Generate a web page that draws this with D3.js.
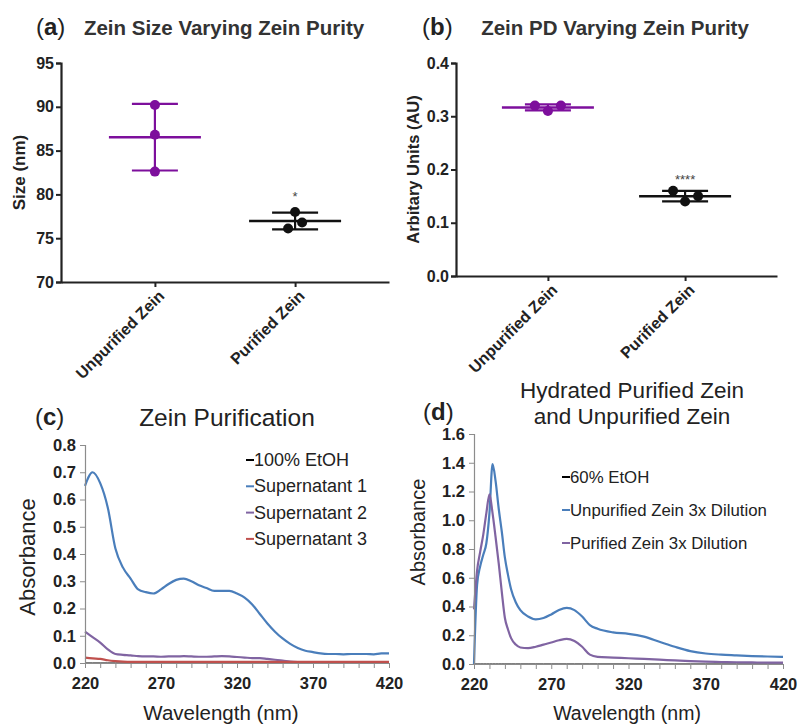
<!DOCTYPE html>
<meta charset="utf-8">
<script src="https://cdnjs.cloudflare.com/ajax/libs/d3/7.8.5/d3.min.js"></script>
<style>
body { margin: 0; background: #fff; }
text { font-family: "Liberation Sans", Arial, sans-serif; }
</style>
<body>
<script>
// ---- data ----
var groups = ["Unpurified Zein", "Purified Zein"];

// (a) particle size, nm (3 replicates each)
var sizeUnpurified = [90.2, 86.8, 82.6];
var sizePurified = [78.0, 76.8, 76.1];
var sizeTicks = [70, 75, 80, 85, 90, 95];

// (b) polydispersity
var pdUnpurified = [0.32, 0.31, 0.32];
var pdPurified = [0.16, 0.14, 0.15];
var pdTicks = [0, 0.1, 0.2, 0.3, 0.4];

// (c) UV spectra, 5 nm steps 220..420
var wlC = d3.range(220, 421, 5);
var etoh100 = wlC.map(function () { return 0; });
var super1 = [0.65, 0.70, 0.66, 0.57, 0.42, 0.35, 0.31, 0.27, 0.26, 0.255, 0.27,
  0.29, 0.305, 0.31, 0.30, 0.285, 0.275, 0.265, 0.265, 0.265, 0.255, 0.24, 0.215,
  0.18, 0.145, 0.115, 0.09, 0.07, 0.055, 0.045, 0.04, 0.035, 0.033, 0.033, 0.032,
  0.033, 0.033, 0.033, 0.032, 0.035, 0.035];
var super2 = [0.115, 0.095, 0.075, 0.05, 0.033, 0.03, 0.028, 0.025, 0.024, 0.024,
  0.023, 0.024, 0.024, 0.025, 0.024, 0.023, 0.023, 0.024, 0.025, 0.024, 0.022,
  0.02, 0.018, 0.018, 0.015, 0.012, 0.009, 0.005, 0.003, 0.002, 0.002, 0.002,
  0.002, 0.002, 0.002, 0.002, 0.002, 0.002, 0.002, 0.002, 0.002];
var super3 = [0.02, 0.017, 0.015, 0.01, 0.007, 0.005, 0.004, 0.004, 0.004, 0.004,
  0.004, 0.004, 0.004, 0.004, 0.004, 0.004, 0.004, 0.004, 0.004, 0.004, 0.004,
  0.004, 0.004, 0.004, 0.004, 0.004, 0.004, 0.004, 0.004, 0.004, 0.004, 0.004,
  0.004, 0.004, 0.004, 0.004, 0.004, 0.004, 0.004, 0.004, 0.004];
var legendC = ["100% EtOH", "Supernatant 1", "Supernatant 2", "Supernatant 3"];

// (d) hydrated zein spectra
var wlD = [220, 222, 224, 226, 228, 230, 232, 234, 236, 238, 240, 242, 244, 247, 250,
  255, 260, 265, 270, 275, 280, 285, 290, 295, 300, 310, 320, 330, 340, 350, 360,
  370, 380, 390, 400, 410, 420];
var etoh60 = wlD.map(function () { return 0; });
var unpurDil = [0.0, 0.55, 0.68, 0.76, 0.84, 1.05, 1.39, 1.27, 1.08, 0.92, 0.74,
  0.62, 0.52, 0.43, 0.375, 0.33, 0.31, 0.32, 0.345, 0.375, 0.39, 0.375, 0.33,
  0.27, 0.245, 0.22, 0.21, 0.19, 0.155, 0.12, 0.09, 0.073, 0.065, 0.06, 0.055,
  0.052, 0.05];
var purDil = [0.38, 0.65, 0.78, 0.9, 1.05, 1.18, 1.05, 0.88, 0.7, 0.5, 0.32, 0.24,
  0.18, 0.135, 0.115, 0.11, 0.12, 0.135, 0.15, 0.165, 0.175, 0.16, 0.12, 0.065,
  0.05, 0.045, 0.04, 0.035, 0.03, 0.025, 0.02, 0.016, 0.014, 0.012, 0.011, 0.01,
  0.01];
var legendD = ["60% EtOH", "Unpurified Zein 3x Dilution", "Purified Zein 3x Dilution"];

var purple = "#7d0f9c";
var lineColors = ["#000000", "#4a7ebb", "#8064a2", "#c0504d"];

var svg = d3.select("body").append("svg")
  .attr("width", 798)
  .attr("height", 727);

// ---------- dot plots (a) and (b) ----------
function dotPanel(opt) {
  var g = svg.append("g");
  var x = d3.scalePoint().domain(groups).range(opt.xr).padding(0.67);
  var y = d3.scaleLinear().domain(opt.dom).range(opt.yr);

  // y axis
  var ya = g.append("g")
    .attr("transform", "translate(" + opt.xr[0] + ",0)")
    .call(d3.axisLeft(y).tickValues(opt.ticks).tickSize(5).tickFormat(opt.fmt));
  // x axis
  var xa = g.append("g")
    .attr("transform", "translate(0," + opt.yr[0] + ")")
    .call(d3.axisBottom(x).tickSize(5).tickSizeOuter(0));
  [ya, xa].forEach(function (a) {
    a.select(".domain").attr("stroke", "#222").attr("stroke-width", 2.2);
    a.selectAll(".tick line").attr("stroke", "#222").attr("stroke-width", 2);
  });
  ya.selectAll("text").attr("font-size", 16).attr("font-weight", "bold")
    .attr("fill", "#222").attr("x", -7);
  xa.selectAll("text").attr("font-size", 16).attr("font-weight", "bold")
    .attr("fill", "#222")
    .attr("text-anchor", "end")
    .attr("transform", "translate(6,11) rotate(-45)")
    .attr("dy", "0.35em").attr("y", 0).attr("x", 0);

  opt.sets.forEach(function (vals, i) {
    var cx = x(groups[i]);
    var col = i === 0 ? purple : "#111";
    var m = d3.mean(vals), sd = d3.deviation(vals);
    var jit = opt.jitter[i];
    // error bar
    g.append("line").attr("x1", cx).attr("x2", cx)
      .attr("y1", y(m + sd)).attr("y2", y(m - sd))
      .attr("stroke", col).attr("stroke-width", 2.2);
    [m + sd, m - sd].forEach(function (v) {
      g.append("line").attr("x1", cx - 23).attr("x2", cx + 23)
        .attr("y1", y(v)).attr("y2", y(v))
        .attr("stroke", col).attr("stroke-width", 2.2);
    });
    g.append("line").attr("x1", cx - 46).attr("x2", cx + 46)
      .attr("y1", y(m)).attr("y2", y(m))
      .attr("stroke", col).attr("stroke-width", 2.5);
    g.selectAll(null).data(vals).enter().append("circle")
      .attr("cx", function (d, j) { return cx + jit[j]; })
      .attr("cy", function (d) { return y(d); })
      .attr("r", 5)
      .attr("fill", col);
  });

  // significance marker
  g.append("text")
    .attr("x", x(groups[1])).attr("y", y(opt.starAt))
    .attr("text-anchor", "middle").attr("font-size", 13).attr("fill", "#444")
    .text(opt.star);

  // y label
  g.append("text")
    .attr("transform", "translate(" + opt.ylx + "," + ((opt.yr[0] + opt.yr[1]) / 2) + ") rotate(-90)")
    .attr("text-anchor", "middle").attr("font-size", opt.ylFont).attr("font-weight", "bold")
    .attr("fill", "#222")
    .text(opt.ylab);

  // panel letter + title
  var t = g.append("text").attr("x", opt.letterX).attr("y", 35).attr("font-size", 24).attr("fill", "#222");
  t.append("tspan").text("(");
  t.append("tspan").attr("font-weight", "bold").text(opt.letter);
  t.append("tspan").text(")");
  g.append("text")
    .attr("x", opt.titleX).attr("y", 35)
    .attr("text-anchor", "middle").attr("font-size", 20.5).attr("font-weight", "bold")
    .attr("fill", "#333")
    .text(opt.title);
}

dotPanel({
  xr: [61, 389], yr: [282, 63], dom: [70, 95], ticks: sizeTicks,
  fmt: d3.format("d"), sets: [sizeUnpurified, sizePurified],
  jitter: [[0, 0, 0], [0, 7, -7]],
  star: "*", starAt: 79.2, ylab: "Size (nm)", ylx: 25, ylFont: 17,
  letter: "a", letterX: 36, title: "Zein Size Varying Zein Purity", titleX: 224
});
dotPanel({
  xr: [456, 777], yr: [276, 63], dom: [0, 0.4], ticks: pdTicks,
  fmt: d3.format(".1f"), sets: [pdUnpurified, pdPurified],
  jitter: [[-13, 0, 13], [-12, 0, 13]],
  star: "****", starAt: 0.172, ylab: "Arbitary Units (AU)", ylx: 419, ylFont: 16.5,
  letter: "b", letterX: 422, title: "Zein PD Varying Zein Purity", titleX: 615
});

// ---------- spectra (c) and (d) ----------
function specPanel(opt) {
  var g = svg.append("g");
  var x = d3.scaleLinear().domain([220, 420]).range(opt.xr);
  var y = d3.scaleLinear().domain(opt.dom).range(opt.yr);

  var line = d3.line()
    .x(function (d) { return x(d[0]); })
    .y(function (d) { return y(d[1]); })
    .curve(d3.curveMonotoneX);

  // draw back-to-front, blank (EtOH) first so the axis covers it
  opt.series.forEach(function (s, i) {
    g.append("path")
      .datum(opt.wl.map(function (w, k) { return [w, s[k]]; }))
      .attr("fill", "none")
      .attr("stroke", lineColors[i])
      .attr("stroke-width", i === 0 ? 1 : 2.2)
      .attr("d", line);
  });

  var ya = g.append("g")
    .attr("transform", "translate(" + opt.xr[0] + ",0)")
    .call(d3.axisLeft(y).tickValues(opt.ticks).tickSize(5).tickFormat(d3.format(".1f")));
  var xa = g.append("g")
    .attr("transform", "translate(0," + opt.yr[0] + ")")
    .call(d3.axisBottom(x).tickValues(d3.range(220, 421, 10)).tickSize(5).tickSizeOuter(0)
      .tickFormat(function (d) { return (d - 220) % 50 === 0 ? d : ""; }));
  [ya, xa].forEach(function (a) {
    a.select(".domain").attr("stroke", "#8c8c8c").attr("stroke-width", 1.2);
    a.selectAll(".tick line").attr("stroke", "#8c8c8c");
    a.selectAll("text").attr("font-size", 16.5).attr("font-weight", "bold").attr("fill", "#222");
  });
  xa.selectAll("text").attr("y", 14);
  ya.selectAll("text").attr("x", -9);

  g.append("text")
    .attr("x", opt.xlx).attr("y", 720)
    .attr("text-anchor", "middle").attr("font-size", opt.axFont).attr("fill", "#222")
    .text("Wavelength (nm)");
  g.append("text")
    .attr("transform", "translate(" + opt.ylx + "," + opt.yly + ") rotate(-90)")
    .attr("text-anchor", "middle").attr("font-size", opt.ylFont).attr("fill", "#222")
    .text("Absorbance");

  // legend
  opt.legend.forEach(function (name, i) {
    var ly = opt.legY + i * opt.legStep;
    g.append("line")
      .attr("x1", opt.legX).attr("x2", opt.legX + 8)
      .attr("y1", ly - 6).attr("y2", ly - 6)
      .attr("stroke", lineColors[i]).attr("stroke-width", 2);
    g.append("text")
      .attr("x", opt.legX + 8).attr("y", ly)
      .attr("font-size", opt.legFont).attr("fill", "#222")
      .text(name);
  });

  // letter + title
  var t = g.append("text").attr("x", opt.letterX).attr("y", opt.letterY).attr("font-size", 24).attr("fill", "#222");
  t.append("tspan").text("(");
  t.append("tspan").attr("font-weight", "bold").text(opt.letter);
  t.append("tspan").text(")");
  opt.title.forEach(function (s, i) {
    g.append("text")
      .attr("x", opt.titleX).attr("y", opt.titleY + i * 26)
      .attr("text-anchor", "middle").attr("font-size", opt.titleFont).attr("fill", "#222")
      .text(s);
  });
}

specPanel({
  xr: [85, 389], yr: [663, 445], dom: [0, 0.8], ticks: d3.range(0, 0.81, 0.1),
  wl: wlC, series: [etoh100, super1, super2, super3],
  legend: legendC, legX: 246, legY: 466, legStep: 26.3, legFont: 18,
  xlx: 221, axFont: 20.5, ylx: 35, yly: 557, ylFont: 22,
  letter: "c", letterX: 35, letterY: 425, title: ["Zein Purification"], titleX: 227, titleY: 426, titleFont: 24.5
});
specPanel({
  xr: [474, 783], yr: [664, 434], dom: [0, 1.6], ticks: d3.range(0, 1.61, 0.2),
  wl: wlD, series: [etoh60, unpurDil, purDil],
  legend: legendD, legX: 562, legY: 483, legStep: 33, legFont: 16.8,
  xlx: 627, axFont: 19.5, ylx: 425, yly: 532, ylFont: 20,
  letter: "d", letterX: 423, letterY: 420, title: ["Hydrated Purified Zein", "and Unpurified Zein"], titleX: 632, titleY: 398, titleFont: 22.5
});
</script>
</body>
